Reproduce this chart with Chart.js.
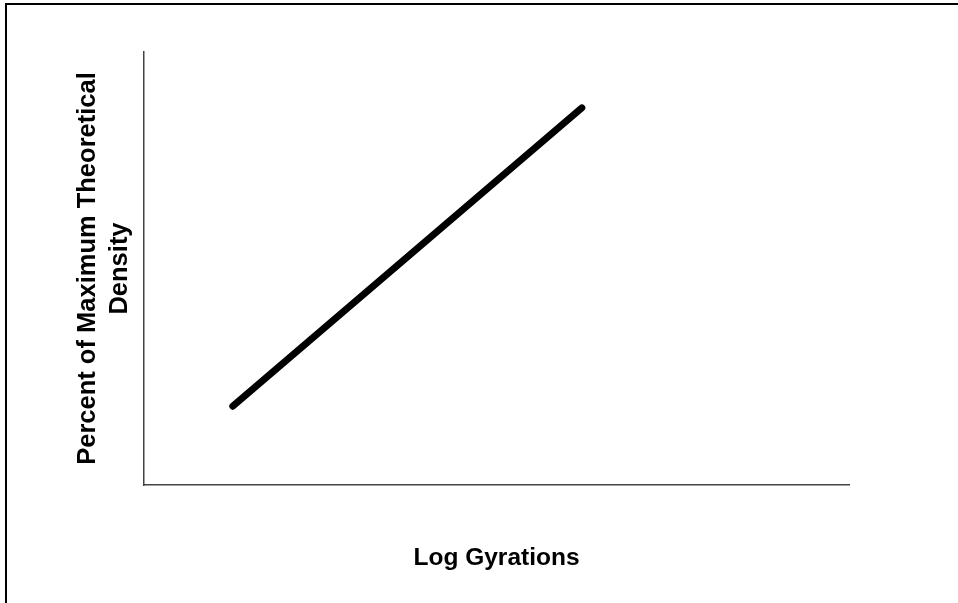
<!DOCTYPE html>
<html>
<head>
<meta charset="utf-8">
<script src="https://cdn.jsdelivr.net/npm/chart.js@4"></script>
<style>
    html, body { margin: 0; padding: 0; background: #fff; }
    #wrap { position: relative; width: 958px; height: 603px; overflow: hidden; }
    #frame { position: absolute; left: 5px; top: 3px; width: 1000px; height: 700px;
             border-left: 2px solid #000; border-top: 2px solid #000; }
    #myChart { position: absolute; left: 0; top: 0; }
</style>
</head>
<body>
<div id="wrap">
    <div id="frame"></div>
    <canvas id="myChart" width="958" height="603"></canvas>
</div>
<script>
// values
var xValues = [1.26, 6.21];
var yValues = [1.82, 8.71];
var xTitle = "Log Gyrations";
var yTitle = ["Percent of Maximum Theoretical", "Density"];

var points = [];
for (var i = 0; i < xValues.length; i++) {
    points.push({ x: xValues[i], y: yValues[i] });
}

var fontFamily = "'Liberation Sans', Arial, sans-serif";

new Chart("myChart", {
    type: "line",
    data: {
        datasets: [{
            data: points,
            borderColor: "#000",
            borderWidth: 7,
            borderCapStyle: "round",
            pointRadius: 0,
            fill: false
        }]
    },
    options: {
        responsive: false,
        animation: false,
        layout: { padding: { left: 0, right: 109, top: 52, bottom: 0 } },
        plugins: { legend: { display: false }, tooltip: { enabled: false } },
        scales: {
            x: {
                type: "linear",
                min: 0,
                max: 10,
                ticks: { display: false },
                grid: { display: false },
                border: { display: true, color: "#444", width: 1.5 },
                title: {
                    display: true,
                    text: xTitle,
                    color: "#000",
                    font: { family: fontFamily, size: 24.5, weight: "bold", lineHeight: 1.2 },
                    padding: { top: 0, bottom: 30 }
                },
                afterFit: function (scale) { scale.height = 118; }
            },
            y: {
                type: "linear",
                min: 0,
                max: 10,
                ticks: { display: false },
                grid: { display: false },
                border: { display: true, color: "#444", width: 1.5 },
                title: {
                    display: true,
                    text: yTitle,
                    color: "#000",
                    font: { family: fontFamily, size: 25.5, weight: "bold", lineHeight: 1.255 },
                    padding: { top: 72, bottom: 0 }
                },
                afterFit: function (scale) { scale.width = 144; }
            }
        }
    }
});
</script>
</body>
</html>
